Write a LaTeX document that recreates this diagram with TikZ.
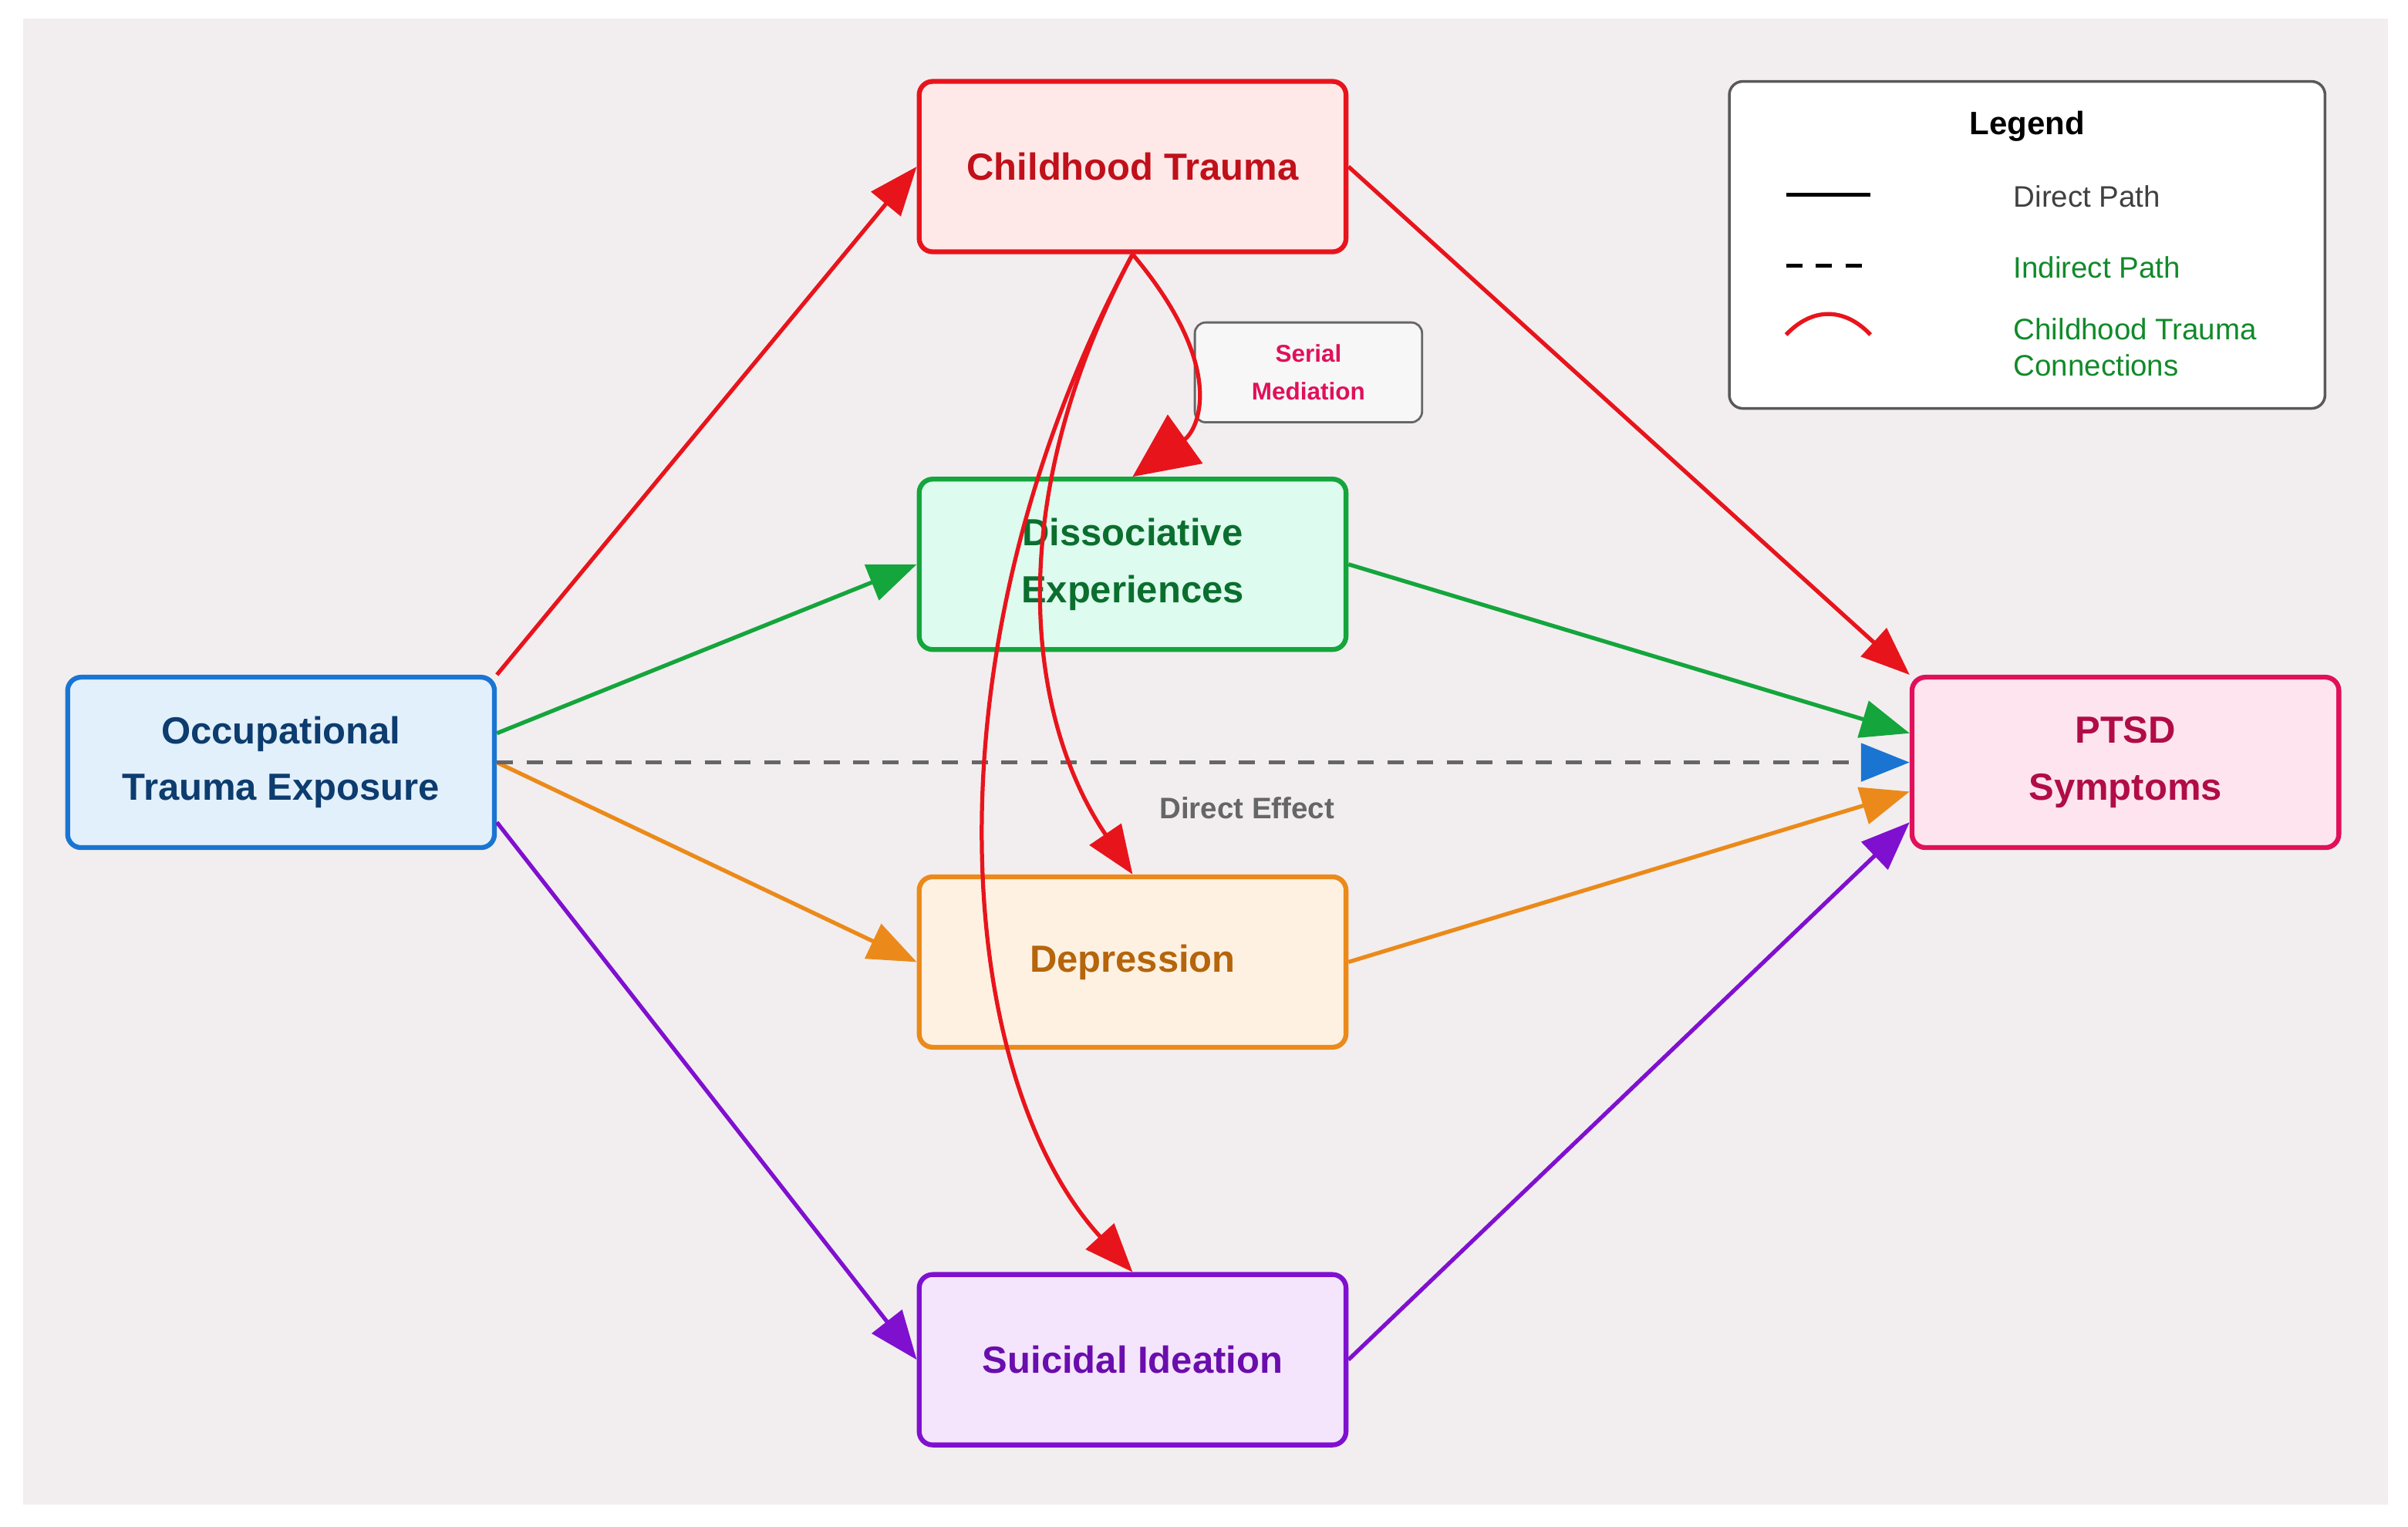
\documentclass[tikz,border=0pt]{standalone}
\usepackage{fontspec}
\setmainfont{Liberation Sans}
\usetikzlibrary{arrows.meta}
\definecolor{bg}{HTML}{F2EEEF}
\definecolor{cR}{HTML}{E8141C}\definecolor{fR}{HTML}{FFE8E8}\definecolor{tR}{HTML}{C0101A}
\definecolor{cG}{HTML}{14A53C}\definecolor{fG}{HTML}{DDFBEE}\definecolor{tG}{HTML}{0B6E2E}
\definecolor{cO}{HTML}{EB8A1A}\definecolor{fO}{HTML}{FEF1E2}\definecolor{tO}{HTML}{B5650B}
\definecolor{cP}{HTML}{8010D0}\definecolor{fP}{HTML}{F4E4FC}\definecolor{tP}{HTML}{6A0DAD}
\definecolor{cB}{HTML}{1A75D2}\definecolor{fB}{HTML}{E2F0FC}\definecolor{tB}{HTML}{0D3C6E}
\definecolor{cK}{HTML}{E0105A}\definecolor{fK}{HTML}{FDE4EE}\definecolor{tK}{HTML}{B00C48}
\definecolor{lg}{HTML}{118A2A}
\tikzset{
 box/.style={draw, line width=1.8pt, rounded corners=5pt, minimum width=5.56cm, minimum height=2.22cm, align=center, font=\fontsize{14}{21}\selectfont\bfseries},
 arr/.style={line width=1.5pt, -{Triangle[length=18pt,width=14pt]}},
 big/.style={line width=1.5pt, -{Triangle[length=24pt,width=22pt]}},
}
\begin{document}
\begin{tikzpicture}[x=0.02cm,y=-0.02cm]
\useasboundingbox (0,0) rectangle (1568,994);
\fill[bg] (15,12) rectangle (1555,980);
\node[box, draw=cR, fill=fR, text=tR] (ct) at (737.5,108.5) {Childhood Trauma};
\node[box, draw=cG, fill=fG, text=tG] (de) at (737.5,367.5) {Dissociative\\Experiences};
\node[box, draw=cO, fill=fO, text=tO] (dp) at (737.5,626.5) {Depression};
\node[box, draw=cP, fill=fP, text=tP] (si) at (737.5,885.5) {Suicidal Ideation};
\node[box, draw=cB, fill=fB, text=tB] (oc) at (183,496.5) {Occupational\\Trauma Exposure};
\node[box, draw=cK, fill=fK, text=tK] (pt) at (1384,496.5) {PTSD\\Symptoms};
% legend
\node[draw=black!65, line width=1pt, fill=white, rounded corners=5pt, minimum width=7.76cm, minimum height=4.26cm] (lg) at (1320,159.5) {};
\node[font=\fontsize{12}{14}\selectfont\bfseries] (lt) at (1320,82) {Legend};
\coordinate (l1a) at (1163,127); \coordinate (l1b) at (1218,127);
\coordinate (l2a) at (1163,173); \coordinate (l2b) at (1218,173);
\coordinate (l3a) at (1163,218); \coordinate (l3b) at (1218,218);
\draw[line width=1.5pt] (l1a) -- (l1b);
\draw[line width=1.5pt, dash pattern=on 6pt off 5pt] (l2a) -- (l2b);
\draw[line width=1.5pt, cR] (l3a) .. controls (1180,200) and (1201,200) .. (l3b);
\node[anchor=west, text=black!75, font=\fontsize{11}{13}\selectfont] (t1) at (1305,128) {Direct Path};
\node[anchor=west, text=lg, font=\fontsize{11}{13}\selectfont] (t2) at (1305,174) {Indirect Path};
\node[anchor=west, text=lg, align=left, font=\fontsize{11}{13.5}\selectfont] (t3) at (1305,226) {Childhood Trauma\\Connections};
% serial mediation
\node[draw=black!60, line width=0.8pt, fill=white!97!black, rounded corners=4pt, minimum width=2.96cm, minimum height=1.3cm, align=center, text=cK, font=\fontsize{9}{14}\selectfont\bfseries] (sm) at (852,242.5) {Serial\\Mediation};
% arrows
\draw[arr, cR] (oc.north east) -- (ct.west);
\draw[arr, cG] ([yshift=0.38cm]oc.east) -- (de.west);
\draw[arr, cO] (oc.east) -- (dp.west);
\draw[arr, cP] ([yshift=-0.78cm]oc.east) -- (si.west);
\draw[arr, cR] (ct.east) -- (pt.north west);
\draw[arr, cG] (de.east) -- ([yshift=0.38cm]pt.west);
\draw[arr, cO] (dp.east) -- ([yshift=-0.38cm]pt.west);
\draw[arr, cP] (si.east) -- ([yshift=-0.78cm]pt.west);
\draw[line width=1.5pt, black!60, dash pattern=on 6pt off 5pt, -{Triangle[length=18pt,width=14pt,color=cB]}] (oc.east) -- (pt.west);
\node[text=black!60, font=\fontsize{11}{13}\selectfont\bfseries] (dir) at (812,526) {Direct Effect};
% red curves
\draw[big, cR] (ct.south) .. controls (800,240) and (780,280) .. (de.north);
\draw[arr, cR] (ct.south) .. controls (650,330) and (670,470) .. (dp.north);
\draw[arr, cR] (ct.south) .. controls (600,420) and (620,700) .. (si.north);
\end{tikzpicture}
\end{document}
